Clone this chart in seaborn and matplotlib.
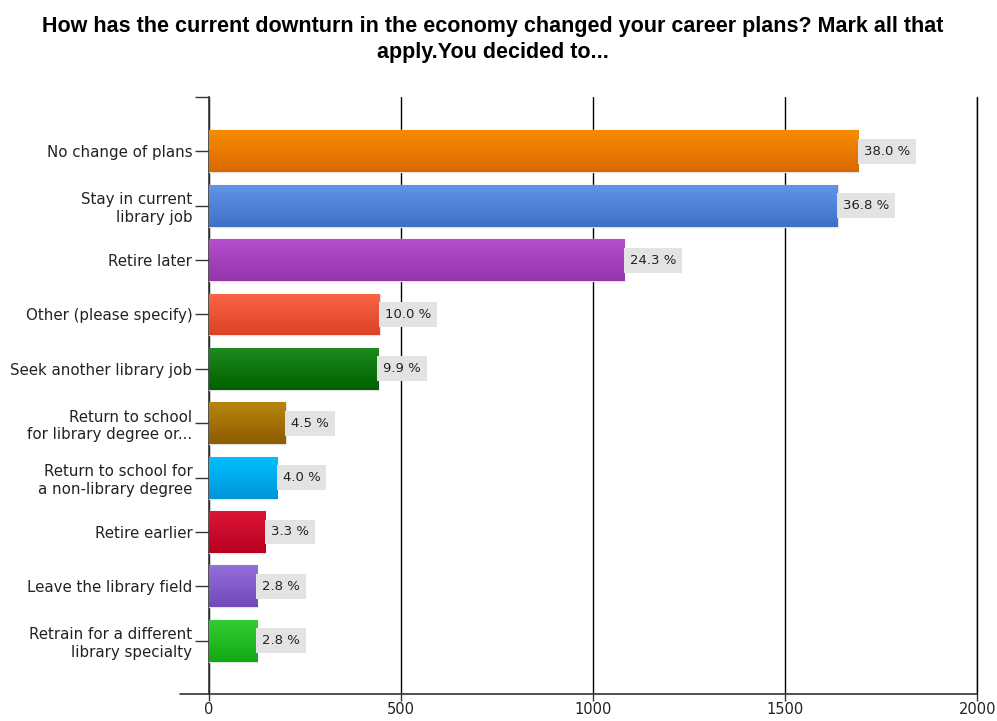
import numpy as np
import pandas as pd
import matplotlib
matplotlib.use("Agg")
import matplotlib.pyplot as plt
import seaborn as sns
from matplotlib.colors import LinearSegmentedColormap
from matplotlib import font_manager

sns.set_style('white')
plt.rcParams['font.family'] = ['DejaVu Sans']

# answers, response counts and shown percentages
categories = ['No change of plans', 'Stay in current\nlibrary job', 'Retire later',
              'Other (please specify)', 'Seek another library job',
              'Return to school\nfor library degree or...',
              'Return to school for\na non-library degree', 'Retire earlier',
              'Leave the library field', 'Retrain for a different\nlibrary specialty']
counts = [1690, 1637, 1081, 445, 440, 200, 178, 147, 125, 125]
percents = [38.0, 36.8, 24.3, 10.0, 9.9, 4.5, 4.0, 3.3, 2.8, 2.8]
x_ticks = [0, 500, 1000, 1500, 2000]

# gradient colours (top, bottom) per bar
tops = ['#f88c00', '#6195e8', '#b74ecd', '#fa6447', '#1e8a1e', '#b8860f', '#00bfff',
        '#dc1538', '#9470dc', '#33cd33']
bottoms = ['#d96800', '#3f70c8', '#9434ad', '#dc4325', '#006000', '#8c5c00', '#0095d8',
           '#b80020', '#7048b8', '#14a814']

df = pd.DataFrame({'answer': categories, 'count': counts})

fig = plt.figure(figsize=(9.97, 7.21), dpi=100)
ax = fig.add_axes([0.2096, 0.0374, 0.7706, 0.8281])

sns.barplot(data=df, x='count', y='answer', hue='answer', palette=tops, legend=False,
            orient='h', width=0.77, ax=ax, edgecolor='#e2e2e2', linewidth=1, zorder=3)

# vertical gradient fill on each bar
for patch, c1, c2 in zip(ax.patches, tops, bottoms):
    x0, y0 = patch.get_x(), patch.get_y()
    w, h = patch.get_width(), patch.get_height()
    cmap = LinearSegmentedColormap.from_list('g', [c1, c2])
    grad = np.linspace(0, 1, 64).reshape(-1, 1)
    im = ax.imshow(grad, cmap=cmap, aspect='auto', extent=[x0, x0 + w, y0 + h, y0],
                   zorder=3.5, interpolation='bilinear')
    im.set_clip_path(patch)

for i, (c, p) in enumerate(zip(counts, percents)):
    ax.text(c + 14, i, f'{p:.1f} %', va='center', ha='left', fontsize=9.5, color='#222222',
            zorder=5, bbox=dict(boxstyle='square,pad=0.45', facecolor='#e3e3e3',
                                edgecolor='none'))

ax.set_xlim(0, 2000)
ax.set_ylim(9.98, -1.0)
ax.set_xticks(x_ticks)
ax.set_xticklabels([str(t) for t in x_ticks], fontsize=10.5, color='#222222')
ax.set_yticks(list(range(len(categories))) + [-1.0])
ax.set_yticklabels(categories + [''], fontsize=10.8, color='#222222')
ax.set_xlabel('')
ax.set_ylabel('')
ax.xaxis.grid(True, color='black', linewidth=1, zorder=0)
ax.yaxis.grid(False)
ax.set_axisbelow(True)
ax.axvline(2000, color='black', lw=1, clip_on=False, zorder=0)
for s in ['top', 'right']:
    ax.spines[s].set_visible(False)
for s in ['left', 'bottom']:
    ax.spines[s].set_color('#333333')
    ax.spines[s].set_linewidth(1.2)
ax.tick_params(axis='y', length=10, width=1, color='#333333', left=True, pad=2)
ax.tick_params(axis='x', length=5, width=1, color='#333333', bottom=True, pad=1)
ax.plot([-0.038, 0], [0.0, 0.0], transform=ax.transAxes, color='#333333', lw=1.2,
        clip_on=False)

# condensed bold title, like the original
names = {f.name for f in font_manager.fontManager.ttflist}
if 'Liberation Sans Narrow' in names:
    tfam, tsize = ['Liberation Sans Narrow'], 16
else:
    tfam, tsize = ['Liberation Sans'], 15.5
fig.suptitle('How has the current downturn in the economy changed your career plans? Mark all that\n'
             'apply.You decided to...', x=0.494, y=0.978, fontsize=tsize, fontweight='bold',
             color='black', linespacing=1.3, family=tfam)

plt.savefig('out.png', dpi=100)
